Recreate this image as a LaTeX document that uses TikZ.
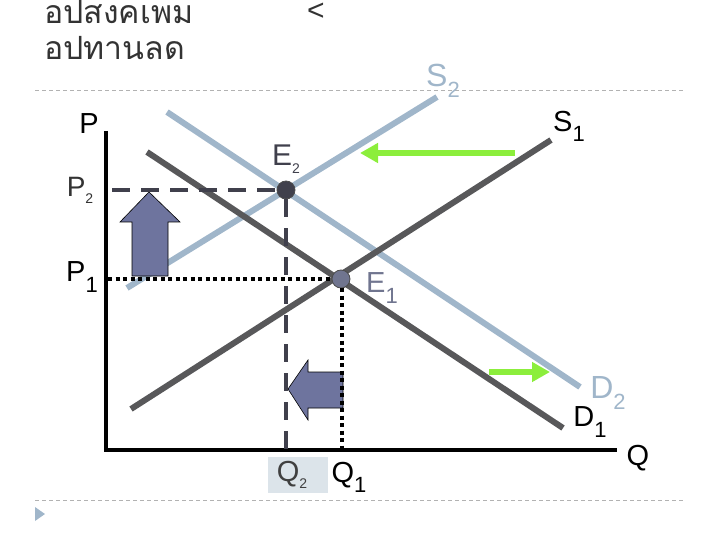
\documentclass[tikz,border=0pt]{standalone}
\usepackage{fontspec}
\setmainfont{Liberation Sans}
\newfontfamily\thaifont[Script=Thai]{Loma}
\usetikzlibrary{arrows.meta}
\definecolor{dk}{RGB}{88,88,90}
\definecolor{lb}{RGB}{160,182,202}
\definecolor{eqdark}{RGB}{64,64,76}
\definecolor{eqmid}{RGB}{112,117,143}
\definecolor{blk}{RGB}{110,116,158}
\definecolor{grn}{RGB}{140,238,60}
\definecolor{sep}{RGB}{178,178,178}
\definecolor{qbox}{RGB}{220,228,234}
\tikzset{
  curvedark/.style={draw=dk,line width=6pt},
  curvelight/.style={draw=lb,line width=6pt},
  axisline/.style={draw=black,line width=4pt},
  pdashed/.style={draw=eqdark,line width=4.5pt,dash pattern=on 18pt off 11pt},
  pdotted/.style={draw=black,line width=4.5pt,dash pattern=on 4pt off 3.5pt},
  blockarrow/.style={fill=blk,draw=black,line width=0.6pt},
  shiftarrow/.style={draw=grn,line width=6pt,-{Triangle[length=18pt,width=19pt]}},
  seprule/.style={draw=sep,line width=1pt,dash pattern=on 4pt off 3pt},
  lbl/.style={inner sep=0pt,font=\fontsize{29}{29}\selectfont},
  eqdot/.style={circle,minimum size=18pt,inner sep=0pt,draw=black!70,line width=0.8pt}
}
\newcommand\bigsub[1]{\raisebox{-0.35em}{\fontsize{22}{22}\selectfont #1}}
\newcommand\tinysub[1]{\raisebox{-0.25em}{\fontsize{14}{14}\selectfont #1}}
\begin{document}
\begin{tikzpicture}[x=1pt,y=-1pt]
\useasboundingbox (0,0) rectangle (720,540);
% title text
\node[anchor=north west,inner sep=0pt,text=black!80,font=\thaifont\fontsize{32}{36}\selectfont,align=left] (title) at (44,0) {อปสงคเพม\\อปทานลด};
\node[anchor=base,inner sep=0pt,text=black!80,font=\fontsize{30}{30}\selectfont] (lt) at (316,21) {<};
% separators
\coordinate (sepa) at (35,91); \coordinate (sepb) at (685,91);
\draw[seprule] (sepa) -- (sepb);
\coordinate (sepc) at (35,500); \coordinate (sepd) at (685,500);
\draw[seprule] (sepc) -- (sepd);
\fill[lb] (35,507) -- (45,514) -- (35,521) -- cycle;
% axes
\coordinate (o) at (106,450);
\coordinate (ytop) at (106,131);
\coordinate (xend) at (617,450);
\draw[axisline] (ytop) -- (o) -- (xend);
% curves
\coordinate (s1a) at (131,409); \coordinate (s1b) at (551,140);
\coordinate (s2a) at (127,288); \coordinate (s2b) at (437,97);
\coordinate (d1a) at (147,152); \coordinate (d1b) at (563,428);
\coordinate (d2a) at (167,112); \coordinate (d2b) at (580,387);
\draw[curvelight] (s2a) -- (s2b);
\draw[curvelight] (d2a) -- (d2b);
\draw[curvedark] (s1a) -- (s1b);
\draw[curvedark] (d1a) -- (d1b);
% block arrows
\draw[blockarrow] (132,276) -- (168,276) -- (168,222) -- (180,222) -- (149,192) -- (120,222) -- (132,222) -- cycle;
\draw[blockarrow] (343,372) -- (343,408) -- (308,408) -- (308,420) -- (288,389) -- (308,360) -- (308,372) -- cycle;
% equilibrium points
\node[eqdot,fill=eqdark] (e2) at (286,190) {};
\node[eqdot,fill=eqmid] (e1) at (341,279) {};
% guide lines
\coordinate (p2) at (112,190);
\coordinate (p1) at (108,279);
\draw[pdashed] (p2) -- (e2.west);
\draw[pdashed] (e2.south) -- (e2 |- o);
\draw[pdotted] (p1) -- (e1.west);
\coordinate (q1top) at (342,288);
\coordinate (q1bot) at (342,448);
\draw[pdotted] (q1top) -- (q1bot);
% shift arrows
\coordinate (gsa) at (515,153); \coordinate (gsb) at (360,153);
\draw[shiftarrow] (gsa) -- (gsb);
\coordinate (gda) at (489,372); \coordinate (gdb) at (550,372);
\draw[shiftarrow] (gda) -- (gdb);
% Q2 box
\fill[qbox] (268,457) rectangle (328,493);
% labels
\node[lbl] (lp) at (89,124) {P};
\node[lbl,text=black!80,font=\fontsize{28}{28}\selectfont] (lp2) at (80,190) {P\tinysub{2}};
\node[lbl] (lp1) at (82,277) {P\bigsub{1}};
\node[lbl,text=lb,font=\fontsize{32}{32}\selectfont] (ls2) at (443,81) {S\bigsub{2}};
\node[lbl] (ls1) at (569,126) {S\bigsub{1}};
\node[lbl,text=eqdark,font=\fontsize{30}{30}\selectfont] (le2) at (286,159) {E\tinysub{2}};
\node[lbl,text=eqmid] (le1) at (382,288) {E\bigsub{1}};
\node[lbl,text=lb,font=\fontsize{32}{32}\selectfont] (ld2) at (608,393) {D\bigsub{2}};
\node[lbl] (ld1) at (590,422) {D\bigsub{1}};
\node[lbl] (lq) at (638,458) {Q};
\node[lbl,text=black!75,font=\fontsize{29}{29}\selectfont] (lq2) at (292,475) {Q\tinysub{2}};
\node[lbl] (lq1) at (349,477) {Q\bigsub{1}};
\end{tikzpicture}
\end{document}
